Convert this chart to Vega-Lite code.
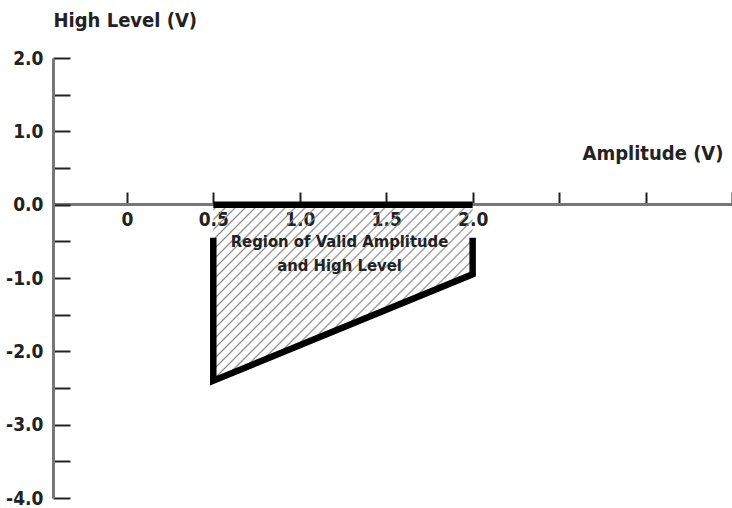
{
  "$schema": "https://vega.github.io/schema/vega-lite/v6.json",
  "width": 679,
  "height": 440,
  "autosize": {"type": "none"},
  "padding": {"left": 53, "top": 58, "right": 0, "bottom": 10},
  "background": "white",
  "config": {"view": {"stroke": null}, "font": "DejaVu Sans Condensed"},
  "datasets": {
    "region": [
      {"amp": 0.5, "level": -2.4, "top": 0},
      {"amp": 2.0, "level": -0.95, "top": 0}
    ],
    "outline": [
      {"seg": "top", "ord": 1, "amp": 0.5, "level": 0},
      {"seg": "top", "ord": 2, "amp": 2.0, "level": 0},
      {"seg": "side", "ord": 1, "amp": 0.5, "level": -0.45},
      {"seg": "side", "ord": 2, "amp": 0.5, "level": -2.4},
      {"seg": "side", "ord": 3, "amp": 2.0, "level": -0.95},
      {"seg": "side", "ord": 4, "amp": 2.0, "level": -0.45}
    ],
    "label": [
      {"amp": 1.23, "level": -0.505, "text": "Region of Valid Amplitude\nand High Level"}
    ]
  },
  "encoding": {
    "x": {
      "field": "amp", "type": "quantitative",
      "scale": {"domain": [-0.427, 3.5], "nice": false, "zero": false},
      "axis": {
        "orient": "bottom", "offset": -294, "zindex": 0, "grid": false,
        "values": [0, 0.5, 1, 1.5, 2, 2.5, 3, 3.5],
        "labelExpr": "datum.value > 2 ? '' : (datum.value == 0 ? '0' : format(datum.value, '.1f'))",
        "labelFlush": false, "labelOverlap": false, "labelBound": false,
        "tickSize": -12, "tickWidth": 2, "tickColor": "#222",
        "domainColor": "#777", "domainWidth": 3,
        "labelFont": "DejaVu Sans Condensed", "labelFontSize": 19, "labelFontWeight": "bold", "labelColor": "#222",
        "labelPadding": 18,
        "title": "Amplitude (V)", "titleX": 670, "titleY": -51, "titleAlign": "right", "titleAnchor": null, "titleBaseline": "middle",
        "titleFont": "DejaVu Sans Condensed", "titleFontSize": 20, "titleFontWeight": "bold", "titleColor": "#222"
      }
    },
    "y": {
      "field": "level", "type": "quantitative",
      "scale": {"domain": [-4, 2], "nice": false, "zero": false},
      "axis": {
        "orient": "left", "zindex": 1, "grid": false,
        "values": [-4, -3.5, -3, -2.5, -2, -1.5, -1, -0.5, 0, 0.5, 1, 1.5, 2],
        "labelExpr": "datum.value % 1 == 0 ? replace(format(datum.value, '.1f'), '\u2212', '-') : ''",
        "labelFlush": false, "labelOverlap": false, "labelBound": false,
        "tickSize": -17, "tickWidth": 2, "tickColor": "#222",
        "domainColor": "#777", "domainWidth": 3,
        "labelFont": "DejaVu Sans Condensed", "labelFontSize": 19, "labelFontWeight": "bold", "labelColor": "#222",
        "labelPadding": 27,
        "title": "High Level (V)", "titleAngle": 0, "titleX": 0, "titleY": -38, "titleAlign": "left", "titleAnchor": null, "titleBaseline": "middle",
        "titleFont": "DejaVu Sans Condensed", "titleFontSize": 20, "titleFontWeight": "bold", "titleColor": "#222"
      }
    }
  },
  "layer": [
    {
      "data": {"name": "region"},
      "mark": {
        "type": "area",
        "fill": {
          "gradient": "linear", "x1": 0, "y1": 0, "x2": 1.319, "y2": 0.893,
          "stops": [
            {"offset": 0, "color": "rgba(140,140,140,0)"},
            {"offset": 0.0065, "color": "rgba(140,140,140,0)"}, {"offset": 0.010, "color": "#8c8c8c"}, {"offset": 0.0135, "color": "rgba(140,140,140,0)"},
            {"offset": 0.0265, "color": "rgba(140,140,140,0)"}, {"offset": 0.030, "color": "#8c8c8c"}, {"offset": 0.0335, "color": "rgba(140,140,140,0)"},
            {"offset": 0.0465, "color": "rgba(140,140,140,0)"}, {"offset": 0.050, "color": "#8c8c8c"}, {"offset": 0.0535, "color": "rgba(140,140,140,0)"},
            {"offset": 0.0665, "color": "rgba(140,140,140,0)"}, {"offset": 0.070, "color": "#8c8c8c"}, {"offset": 0.0735, "color": "rgba(140,140,140,0)"},
            {"offset": 0.0865, "color": "rgba(140,140,140,0)"}, {"offset": 0.090, "color": "#8c8c8c"}, {"offset": 0.0935, "color": "rgba(140,140,140,0)"},
            {"offset": 0.1065, "color": "rgba(140,140,140,0)"}, {"offset": 0.110, "color": "#8c8c8c"}, {"offset": 0.1135, "color": "rgba(140,140,140,0)"},
            {"offset": 0.1265, "color": "rgba(140,140,140,0)"}, {"offset": 0.130, "color": "#8c8c8c"}, {"offset": 0.1335, "color": "rgba(140,140,140,0)"},
            {"offset": 0.1465, "color": "rgba(140,140,140,0)"}, {"offset": 0.150, "color": "#8c8c8c"}, {"offset": 0.1535, "color": "rgba(140,140,140,0)"},
            {"offset": 0.1665, "color": "rgba(140,140,140,0)"}, {"offset": 0.170, "color": "#8c8c8c"}, {"offset": 0.1735, "color": "rgba(140,140,140,0)"},
            {"offset": 0.1865, "color": "rgba(140,140,140,0)"}, {"offset": 0.190, "color": "#8c8c8c"}, {"offset": 0.1935, "color": "rgba(140,140,140,0)"},
            {"offset": 0.2065, "color": "rgba(140,140,140,0)"}, {"offset": 0.210, "color": "#8c8c8c"}, {"offset": 0.2135, "color": "rgba(140,140,140,0)"},
            {"offset": 0.2265, "color": "rgba(140,140,140,0)"}, {"offset": 0.230, "color": "#8c8c8c"}, {"offset": 0.2335, "color": "rgba(140,140,140,0)"},
            {"offset": 0.2465, "color": "rgba(140,140,140,0)"}, {"offset": 0.250, "color": "#8c8c8c"}, {"offset": 0.2535, "color": "rgba(140,140,140,0)"},
            {"offset": 0.2665, "color": "rgba(140,140,140,0)"}, {"offset": 0.270, "color": "#8c8c8c"}, {"offset": 0.2735, "color": "rgba(140,140,140,0)"},
            {"offset": 0.2865, "color": "rgba(140,140,140,0)"}, {"offset": 0.290, "color": "#8c8c8c"}, {"offset": 0.2935, "color": "rgba(140,140,140,0)"},
            {"offset": 0.3065, "color": "rgba(140,140,140,0)"}, {"offset": 0.310, "color": "#8c8c8c"}, {"offset": 0.3135, "color": "rgba(140,140,140,0)"},
            {"offset": 0.3265, "color": "rgba(140,140,140,0)"}, {"offset": 0.330, "color": "#8c8c8c"}, {"offset": 0.3335, "color": "rgba(140,140,140,0)"},
            {"offset": 0.3465, "color": "rgba(140,140,140,0)"}, {"offset": 0.350, "color": "#8c8c8c"}, {"offset": 0.3535, "color": "rgba(140,140,140,0)"},
            {"offset": 0.3665, "color": "rgba(140,140,140,0)"}, {"offset": 0.370, "color": "#8c8c8c"}, {"offset": 0.3735, "color": "rgba(140,140,140,0)"},
            {"offset": 0.3865, "color": "rgba(140,140,140,0)"}, {"offset": 0.390, "color": "#8c8c8c"}, {"offset": 0.3935, "color": "rgba(140,140,140,0)"},
            {"offset": 0.4065, "color": "rgba(140,140,140,0)"}, {"offset": 0.410, "color": "#8c8c8c"}, {"offset": 0.4135, "color": "rgba(140,140,140,0)"},
            {"offset": 0.4265, "color": "rgba(140,140,140,0)"}, {"offset": 0.430, "color": "#8c8c8c"}, {"offset": 0.4335, "color": "rgba(140,140,140,0)"},
            {"offset": 0.4465, "color": "rgba(140,140,140,0)"}, {"offset": 0.450, "color": "#8c8c8c"}, {"offset": 0.4535, "color": "rgba(140,140,140,0)"},
            {"offset": 0.4665, "color": "rgba(140,140,140,0)"}, {"offset": 0.470, "color": "#8c8c8c"}, {"offset": 0.4735, "color": "rgba(140,140,140,0)"},
            {"offset": 0.4865, "color": "rgba(140,140,140,0)"}, {"offset": 0.490, "color": "#8c8c8c"}, {"offset": 0.4935, "color": "rgba(140,140,140,0)"},
            {"offset": 0.5065, "color": "rgba(140,140,140,0)"}, {"offset": 0.510, "color": "#8c8c8c"}, {"offset": 0.5135, "color": "rgba(140,140,140,0)"},
            {"offset": 0.5265, "color": "rgba(140,140,140,0)"}, {"offset": 0.530, "color": "#8c8c8c"}, {"offset": 0.5335, "color": "rgba(140,140,140,0)"},
            {"offset": 0.5465, "color": "rgba(140,140,140,0)"}, {"offset": 0.550, "color": "#8c8c8c"}, {"offset": 0.5535, "color": "rgba(140,140,140,0)"},
            {"offset": 0.5665, "color": "rgba(140,140,140,0)"}, {"offset": 0.570, "color": "#8c8c8c"}, {"offset": 0.5735, "color": "rgba(140,140,140,0)"},
            {"offset": 0.5865, "color": "rgba(140,140,140,0)"}, {"offset": 0.590, "color": "#8c8c8c"}, {"offset": 0.5935, "color": "rgba(140,140,140,0)"},
            {"offset": 0.6065, "color": "rgba(140,140,140,0)"}, {"offset": 0.610, "color": "#8c8c8c"}, {"offset": 0.6135, "color": "rgba(140,140,140,0)"},
            {"offset": 0.6265, "color": "rgba(140,140,140,0)"}, {"offset": 0.630, "color": "#8c8c8c"}, {"offset": 0.6335, "color": "rgba(140,140,140,0)"},
            {"offset": 0.6465, "color": "rgba(140,140,140,0)"}, {"offset": 0.650, "color": "#8c8c8c"}, {"offset": 0.6535, "color": "rgba(140,140,140,0)"},
            {"offset": 0.6665, "color": "rgba(140,140,140,0)"}, {"offset": 0.670, "color": "#8c8c8c"}, {"offset": 0.6735, "color": "rgba(140,140,140,0)"},
            {"offset": 0.6865, "color": "rgba(140,140,140,0)"}, {"offset": 0.690, "color": "#8c8c8c"}, {"offset": 0.6935, "color": "rgba(140,140,140,0)"},
            {"offset": 0.7065, "color": "rgba(140,140,140,0)"}, {"offset": 0.710, "color": "#8c8c8c"}, {"offset": 0.7135, "color": "rgba(140,140,140,0)"},
            {"offset": 0.7265, "color": "rgba(140,140,140,0)"}, {"offset": 0.730, "color": "#8c8c8c"}, {"offset": 0.7335, "color": "rgba(140,140,140,0)"},
            {"offset": 0.7465, "color": "rgba(140,140,140,0)"}, {"offset": 0.750, "color": "#8c8c8c"}, {"offset": 0.7535, "color": "rgba(140,140,140,0)"},
            {"offset": 0.7665, "color": "rgba(140,140,140,0)"}, {"offset": 0.770, "color": "#8c8c8c"}, {"offset": 0.7735, "color": "rgba(140,140,140,0)"},
            {"offset": 0.7865, "color": "rgba(140,140,140,0)"}, {"offset": 0.790, "color": "#8c8c8c"}, {"offset": 0.7935, "color": "rgba(140,140,140,0)"},
            {"offset": 0.8065, "color": "rgba(140,140,140,0)"}, {"offset": 0.810, "color": "#8c8c8c"}, {"offset": 0.8135, "color": "rgba(140,140,140,0)"},
            {"offset": 0.8265, "color": "rgba(140,140,140,0)"}, {"offset": 0.830, "color": "#8c8c8c"}, {"offset": 0.8335, "color": "rgba(140,140,140,0)"},
            {"offset": 0.8465, "color": "rgba(140,140,140,0)"}, {"offset": 0.850, "color": "#8c8c8c"}, {"offset": 0.8535, "color": "rgba(140,140,140,0)"},
            {"offset": 0.8665, "color": "rgba(140,140,140,0)"}, {"offset": 0.870, "color": "#8c8c8c"}, {"offset": 0.8735, "color": "rgba(140,140,140,0)"},
            {"offset": 0.8865, "color": "rgba(140,140,140,0)"}, {"offset": 0.890, "color": "#8c8c8c"}, {"offset": 0.8935, "color": "rgba(140,140,140,0)"},
            {"offset": 0.9065, "color": "rgba(140,140,140,0)"}, {"offset": 0.910, "color": "#8c8c8c"}, {"offset": 0.9135, "color": "rgba(140,140,140,0)"},
            {"offset": 0.9265, "color": "rgba(140,140,140,0)"}, {"offset": 0.930, "color": "#8c8c8c"}, {"offset": 0.9335, "color": "rgba(140,140,140,0)"},
            {"offset": 0.9465, "color": "rgba(140,140,140,0)"}, {"offset": 0.950, "color": "#8c8c8c"}, {"offset": 0.9535, "color": "rgba(140,140,140,0)"},
            {"offset": 0.9665, "color": "rgba(140,140,140,0)"}, {"offset": 0.970, "color": "#8c8c8c"}, {"offset": 0.9735, "color": "rgba(140,140,140,0)"},
            {"offset": 0.9865, "color": "rgba(140,140,140,0)"}, {"offset": 0.990, "color": "#8c8c8c"}, {"offset": 0.9935, "color": "rgba(140,140,140,0)"},
            {"offset": 1, "color": "rgba(140,140,140,0)"}
          ]
        }
      },
      "encoding": {"y2": {"field": "top"}}
    },
    {
      "data": {"name": "label"},
      "mark": {
        "type": "text", "font": "DejaVu Sans Condensed", "fontSize": 16.5, "fontWeight": "bold",
        "color": "#222", "align": "center", "baseline": "middle", "lineBreak": "\n", "lineHeight": 24
      },
      "encoding": {"text": {"field": "text"}}
    },
    {
      "data": {"name": "outline"},
      "mark": {"type": "line", "color": "#000", "strokeWidth": 6.5, "strokeJoin": "miter", "strokeCap": "butt"},
      "encoding": {
        "detail": {"field": "seg"},
        "order": {"field": "ord", "type": "quantitative"}
      }
    }
  ]
}
